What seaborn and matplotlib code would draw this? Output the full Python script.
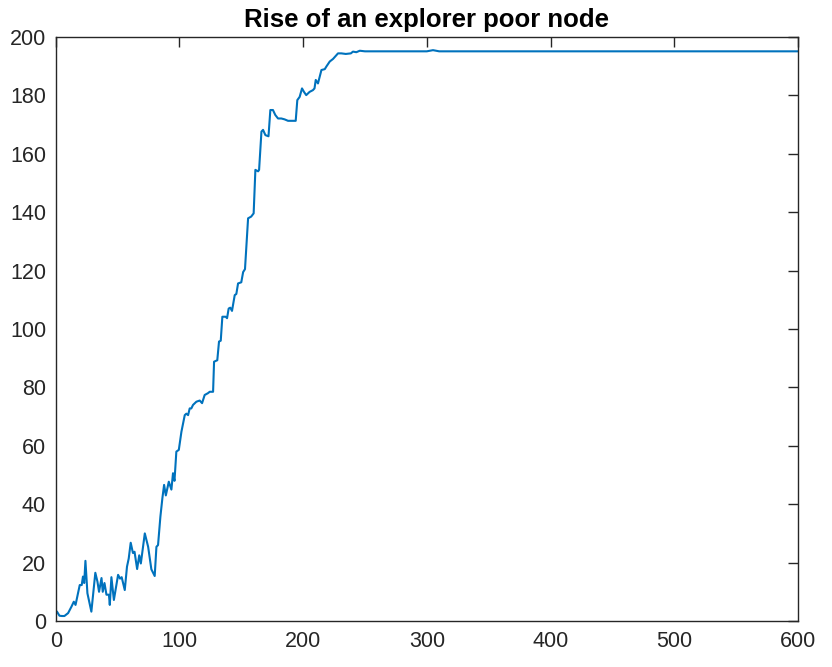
import pandas as pd
import matplotlib
matplotlib.use("Agg")
import matplotlib.pyplot as plt
import seaborn as sns

# values
steps = [0, 1, 3, 5, 7, 10, 12.7, 14.6, 16, 19.4, 21, 22, 23, 24, 25.6, 28.8,
         32, 33.7, 35, 37, 38, 39.4, 41, 43, 43.7, 45, 47, 50.4, 52, 53.3,
         55.8, 57.6, 59, 60.6, 62.4, 63.7, 65.8, 67.5, 68.8, 72, 74.7, 77.3,
         80, 81.4, 82.7, 84.6, 86.2, 87.6, 89, 91.4, 93.5, 94.8, 96, 97.5,
         99.5, 101.6, 102.9, 104.3, 105.6, 107, 108.3, 109.6, 111, 113.7,
         116.4, 118.3, 120.4, 123, 124.5, 127.2, 128, 130.6, 132, 133.4,
         134.7, 137.4, 138.5, 139.8, 141.1, 142.5, 144.7, 146, 147.4, 150,
         151.5, 153, 155, 155.5, 158, 160, 161.4, 163.6, 164.4, 166.3, 167.6,
         169.5, 172, 173.5, 175.6, 177.5, 179.7, 182.4, 185, 187.8, 190.5,
         194, 195.3, 197.2, 199.1, 200.7, 202.5, 205.2, 207.9, 209.2, 210.2,
         212, 214.8, 217.5, 218.8, 221.5, 224.2, 228.2, 230.9, 234.5, 238.6,
         240.3, 243, 245.8, 250, 300, 305, 310, 400, 500, 600]
node_value = [3.4, 3.2, 1.8, 1.7, 1.7, 2.7, 4.9, 6.6, 5.5, 12.3, 12.3, 15.2,
              13, 20.6, 9.5, 3.2, 16.5, 13.5, 10, 14.7, 10, 13, 9, 9, 5.5, 15,
              7.2, 15.8, 14.5, 15, 10.6, 18.6, 21.4, 26.8, 23.3, 23.7, 17.8,
              22.5, 19.7, 30, 25.4, 17.7, 15.4, 25.4, 26, 35.7, 42, 46.6, 43,
              47.7, 45, 50.6, 48, 58, 58.6, 64.8, 67.6, 70.5, 71, 70.5, 72.8,
              72.8, 74, 75.1, 75.5, 74.6, 77.4, 78, 78.5, 78.5, 88.8, 89.3,
              95.7, 96, 104.2, 104.2, 103.7, 107, 107.3, 106.2, 111.6, 112,
              115.6, 116, 119.5, 120.5, 134, 137.9, 138.5, 139.6, 154.5, 154,
              154.5, 167.6, 168.2, 166.4, 166, 175, 175, 173.3, 172.1, 172.1,
              171.8, 171.3, 171.3, 171.3, 178.4, 179.5, 182.4, 181.2, 180.1,
              181.2, 181.8, 182.4, 185.3, 184.1, 188.7, 189, 189.9, 191.6,
              192.5, 194.4, 194.4, 194.2, 194.4, 195, 194.8, 195.3, 195.1,
              195.1, 195.5, 195.1, 195.1, 195.1, 195.1]

df = pd.DataFrame({"step": steps, "value": node_value})

sns.set_style("white")
plt.rcParams['font.family'] = ['Liberation Sans', 'DejaVu Sans']

fig = plt.figure(figsize=(8.32, 6.67), dpi=100)
ax = fig.add_axes([0.067, 0.069, 0.892, 0.8755])

sns.lineplot(data=df, x="step", y="value", ax=ax, color="#0072BD",
             linewidth=1.5, estimator=None, sort=False)

ax.set_xlim(0, 600)
ax.set_ylim(0, 200)
ax.set_xticks(range(0, 601, 100))
ax.set_yticks(range(0, 201, 20))
ax.set_xlabel("")
ax.set_ylabel("")
ax.set_title("Rise of an explorer poor node", fontsize=18.5, fontweight="bold",
             color="black", pad=7)

for s in ax.spines.values():
    s.set_visible(True)
    s.set_color("#262626")
    s.set_linewidth(1.0)
ax.tick_params(direction="in", length=7, width=1.0, colors="#262626",
               labelsize=15.5, top=True, right=True, labelcolor="#262626", pad=7)

fig.savefig("out.png", dpi=100)
